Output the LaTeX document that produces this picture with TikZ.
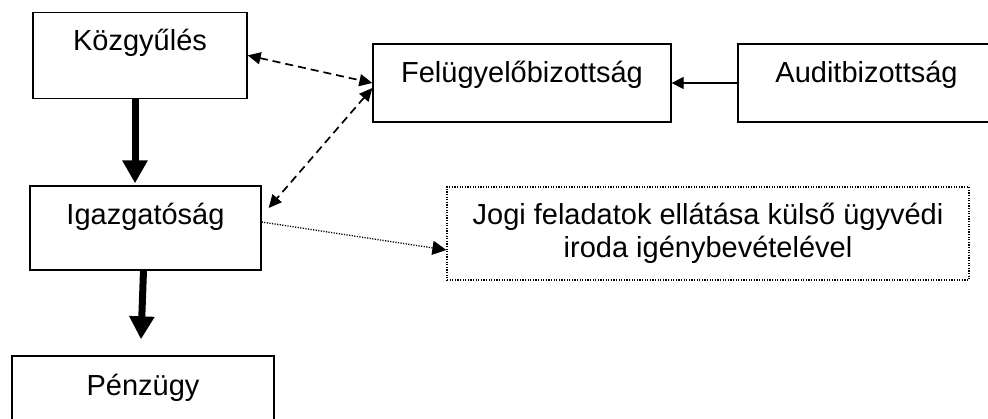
\documentclass[tikz,border=0pt]{standalone}
\usepackage{fontspec}
\setmainfont{Liberation Sans}
\usetikzlibrary{arrows.meta}
\begin{document}
\begin{tikzpicture}[x=1pt,y=-1pt,
  every node/.style={font=\fontsize{29}{33.5}\selectfont},
  box/.style={draw, line width=1.3pt, inner sep=0pt, text height=18pt, align=center},
  dotbox/.style={draw, line width=1.2pt, dash pattern=on 1.2pt off 1.4pt, inner sep=0pt, align=center},
  heavy/.style={line width=7pt, -{Triangle[length=23pt,width=24pt]}},
  dashlink/.style={line width=1.7pt, dash pattern=on 8pt off 5pt, {Triangle[length=13pt,width=12pt]}-{Triangle[length=13pt,width=12pt]}},
  thinlink/.style={line width=1.3pt, -{Triangle[length=12pt,width=12pt]}},
  dotlink/.style={line width=1.3pt, dash pattern=on 1.2pt off 1.4pt, -{Triangle[length=14pt,width=14pt]}}
]
\clip (0,0) rectangle (988,419);
\fill[white] (0,0) rectangle (988,419);
\node[box, minimum width=214pt, minimum height=86pt, text depth=26.8pt] (kozgy) at (140,55.4) {Közgyűlés};
\node[box, minimum width=298pt, minimum height=78pt, text depth=18pt] (felug) at (522,83) {Felügyelőbizottság};
\node[box, minimum width=257pt, minimum height=78pt, text depth=18pt] (audit) at (866.5,83) {Auditbizottság};
\node[box, minimum width=231pt, minimum height=84pt, text depth=24pt] (igazg) at (145.5,228) {Igazgatóság};
\node[box, minimum width=262pt, minimum height=86pt, text depth=24pt] (penz) at (143,399) {Pénzügy};
\node[dotbox, minimum width=522pt, minimum height=93pt] (jogi) at (708,233.5) {Jogi feladatok ellátása külső ügyvédi\\iroda igénybevételével};
\draw[heavy] ([xshift=-5pt]kozgy.south) -- ([xshift=-10.5pt,yshift=2pt]igazg.north);
\draw[heavy] ([xshift=-2pt]igazg.south) -- ([xshift=-2pt,yshift=16pt]penz.north);
\draw[dashlink] (kozgy.east) -- (felug.west);
\draw[dashlink] ([yshift=-5pt]felug.west) -- ([xshift=7pt,yshift=20pt]igazg.east);
\draw[thinlink] (audit.west) -- (felug.east);
\draw[dotlink] ([yshift=6pt]igazg.east) -- ([yshift=-16.5pt]jogi.west);
\end{tikzpicture}
\end{document}
